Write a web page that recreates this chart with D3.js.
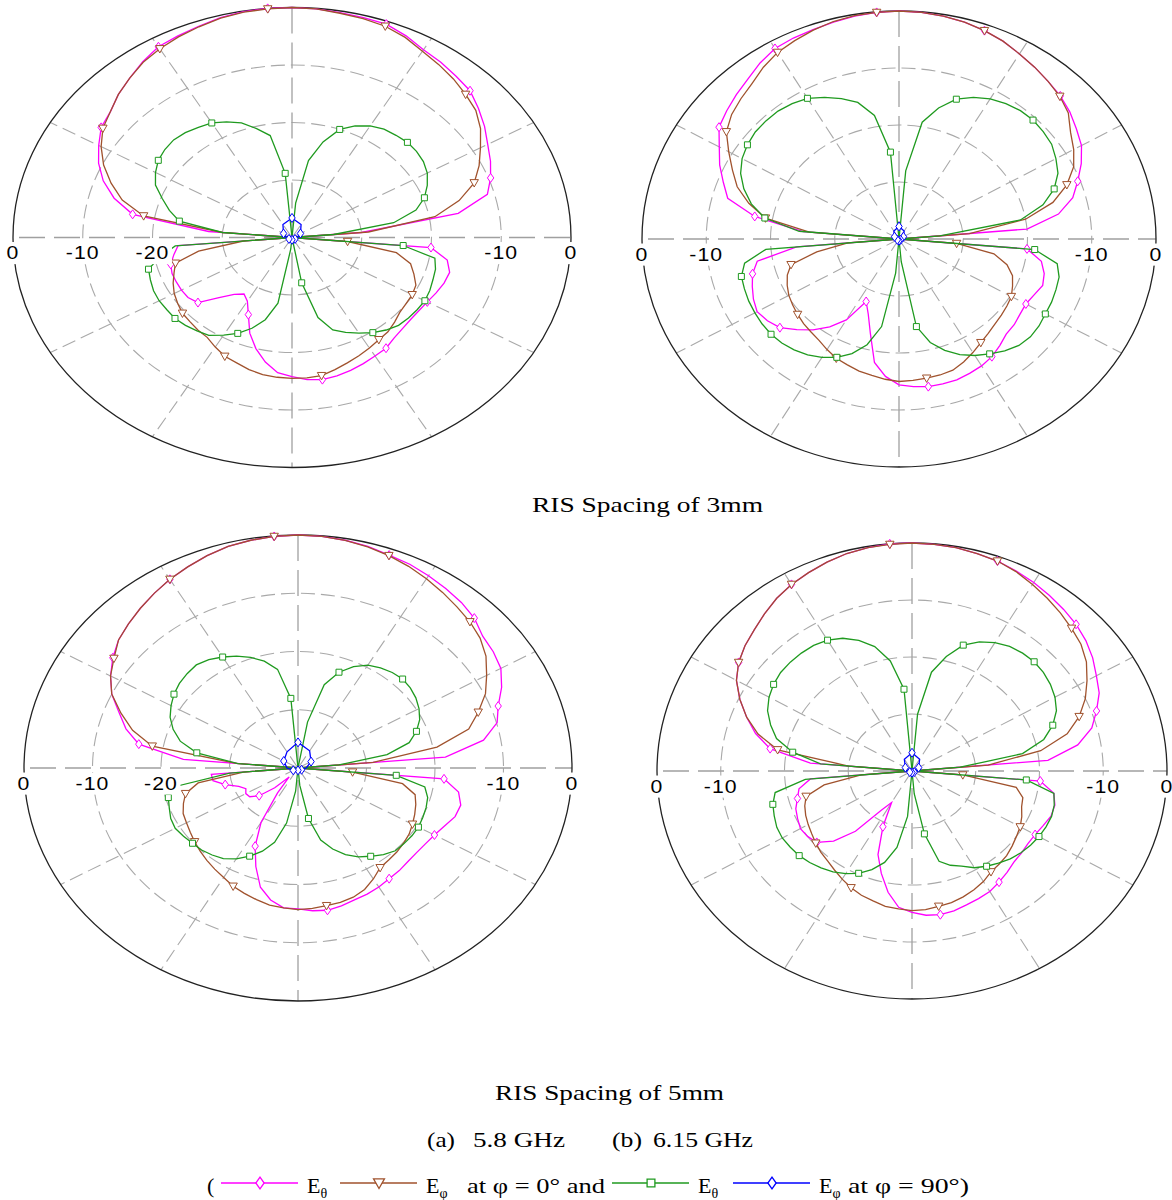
<!DOCTYPE html>
<html>
<head>
<meta charset="utf-8">
<script src="https://cdn.jsdelivr.net/npm/d3@7"></script>
<style>
  body { margin: 0; background: #fff; }
  text { font-family: "Liberation Serif", "Times New Roman", serif; fill: #000; }
  .tick { font-family: "Liberation Sans", Arial, sans-serif; font-size: 18px; letter-spacing: 1px; }
</style>
</head>
<body>
<div id="chart"></div>
<script>
// theta grid in degrees, clockwise from the top (0 dB at the rim, -40 dB at the centre)
var thetaDeg = d3.range(0, 360, 5);
var markerDeg = [20, 45, 70, 95, 120, 145, 170, 205, 230, 255, 280, 305, 330, 355];
var blueDeg = d3.range(0, 360, 30);
var ringDb = [-30, -20, -10];
var spokeDeg = [30, 60, 120, 150, 210, 240, 300, 330];

// RIS spacing 3mm, 5.8 GHz
var a3Eth0 = [0, -0.1, -0.3, -0.4, -0.5, -1.3, -2.3, -2.8, -3.4, -3.9, -5.1, -6.3, -7.6, -8.6, -9.7, -11, -15.8, -30,
  -40, -20, -17.4, -16.6, -16.8, -17.2, -17.6, -17.8, -17.8, -17.6, -17.2, -16.5, -16.2, -15.8, -15.4, -15.1, -14.9, -15.2,
  -15.8, -16.4, -18, -20, -22.3, -25.2, -27.2, -28, -27.1, -25.2, -22.4, -21.8, -21.7, -21.7, -21.7, -22, -22.8, -23.6,
  -40, -28, -16.8, -13.6, -11.2, -9.4, -8, -6.6, -6, -4.8, -3.8, -2.7, -1.7, -1.3, -0.9, -0.4, -0.1, 0];
var a3Eph0 = [0, -0.1, -0.4, -0.6, -0.9, -1.6, -2.6, -3.3, -4, -4.8, -5.6, -7, -8.8, -10.4, -12.2, -15.2, -19.2, -29,
  -40, -32, -24.8, -22.4, -21.4, -20.4, -20.1, -20, -19.8, -19.2, -18.6, -18.3, -17.8, -17.3, -16.8, -16.2, -15.6, -15.5,
  -15.5, -15.6, -15.8, -16.2, -16.8, -17.2, -18, -18.8, -19, -19.3, -19.5, -20, -20.5, -21.2, -22, -22.7, -26.4, -33,
  -40, -30, -18.4, -14.8, -12.4, -10.2, -8.4, -6.9, -6, -4.8, -3.8, -2.8, -2.1, -1.5, -1, -0.5, -0.2, -0.1];
var a3Eth90 = [-40, -34, -26.4, -22.8, -20, -18.6, -17.6, -17, -16.8, -16.6, -16.7, -17, -17.6, -18.6, -19.8, -21.6, -25.2, -34,
  -40, -24, -19.2, -18.7, -18.5, -18.2, -18, -18.1, -18.2, -18.4, -19, -19.8, -20.8, -21.8, -22.9, -25.6, -32, -40,
  -40, -38, -28.4, -25.2, -23.2, -21.6, -20.4, -19.2, -18.8, -18.4, -18.1, -18.1, -18, -18.1, -18.4, -18.7, -20.8, -23.2,
  -40, -30, -23.6, -21.8, -20.2, -18.4, -17.4, -16.6, -16.2, -16, -16.2, -16.6, -17, -17.8, -18.8, -20.4, -22, -28.8];
var a3Eph90 = [-36.6, -37.4, -38.6, -39.2, -39.5, -39.6, -39.6, -39.6, -39.5, -39.2, -38.6, -37.4];

// RIS spacing 3mm, 6.15 GHz
var b3Eth0 = [0, -0.1, -0.3, -0.6, -1.1, -1.7, -2.5, -3.2, -3.9, -4.5, -5.3, -6.3, -7.2, -8.7, -10.4, -12, -14.8, -20,
  -40, -20, -17.5, -16.6, -16.2, -16.8, -17.2, -17, -16.6, -16.4, -15.6, -14.8, -14.3, -14, -13.7, -13.7, -13.7, -14,
  -14.4, -15.8, -18, -22.8, -26, -27.9, -23.6, -21.2, -19.2, -17.5, -15.8, -15, -14.5, -15, -15.7, -16.4, -17.6, -24,
  -40, -25, -17.2, -12.4, -10.9, -9.2, -7.7, -5.8, -5, -4.2, -3.4, -2.3, -1.4, -1.1, -0.9, -0.6, -0.3, -0.1];
var b3Eph0 = [0, -0.1, -0.3, -0.6, -1.1, -1.7, -2.5, -3.2, -3.9, -4.6, -5.6, -7.4, -8.6, -10, -12.2, -15.2, -20, -29,
  -40, -31, -25, -22.6, -21.2, -20.5, -19.8, -19.5, -19.2, -18.9, -18.4, -17.8, -17, -16.2, -15.5, -15.3, -15.2, -15.1,
  -15, -15.3, -15.7, -16, -16.5, -16.9, -17.6, -18.3, -18.7, -19, -19.4, -19.8, -20.2, -20.8, -21.5, -22.6, -27, -32,
  -40, -26, -18.9, -15.8, -13.2, -11.4, -9.4, -7.2, -6, -5.2, -4.4, -3.2, -2.2, -1.6, -1, -0.5, -0.2, -0.1];
var b3Eth90 = [-40, -28, -19.2, -16.2, -13.9, -12.6, -11.6, -11, -10.6, -10.5, -10.7, -11, -11.8, -12.7, -14.3, -16.8, -20.8, -33.6,
  -40, -18.8, -15, -14.2, -14, -13.8, -13.7, -13.4, -13.3, -13.6, -14.4, -15.4, -16.4, -17.6, -19.2, -21.2, -24.4, -36,
  -40, -34, -24.4, -20.8, -18.6, -17.1, -16, -15.2, -14.6, -14.2, -14, -14, -14.1, -14.2, -14.4, -14.6, -15.6, -19.2,
  -40, -24.4, -18.8, -16.2, -14.3, -12.8, -11.8, -11.2, -10.8, -10.7, -10.7, -11, -11.5, -12.6, -13.8, -15.2, -18, -24.7];
var b3Eph90 = [-37.8, -38.4, -39.2, -39.5, -39.7, -39.7, -39.7, -39.7, -39.7, -39.5, -39.2, -38.4];

// RIS spacing 5mm, 5.8 GHz
var a5Eth0 = [0, -0.1, -0.3, -0.6, -1.1, -1.4, -1.9, -2.4, -2.9, -3.6, -4.8, -5.2, -5.8, -7.2, -8.9, -9.9, -12.5, -18.4,
  -40, -18.6, -16.2, -15.4, -15.6, -16.4, -17, -17.3, -17.4, -17.3, -17, -16.8, -16.4, -16.1, -15.9, -15.5, -15.2, -15.4,
  -15.8, -15.9, -17, -18.8, -22, -25.2, -29.2, -34.8, -38, -35.2, -32.6, -31.4, -31.2, -31.6, -30.8, -29, -27.4, -27.3,
  -40, -23.2, -16.4, -14, -12.2, -10, -8.4, -7, -5.8, -5, -4.2, -3.4, -2.6, -1.9, -1.2, -0.6, -0.3, -0.1];
var a5Eph0 = [0, -0.1, -0.3, -0.7, -1.2, -1.8, -2.5, -3.2, -3.9, -4.5, -5.3, -6.5, -8.2, -9.8, -12, -14.2, -19.4, -29,
  -40, -32, -24.5, -22.3, -21.7, -21.2, -20.7, -20.2, -19.9, -19.6, -19.4, -19.1, -18, -17, -16.4, -16.1, -16, -15.8,
  -15.7, -15.9, -16.1, -16.6, -17.1, -17.6, -18.3, -18.8, -19.3, -19.8, -20.3, -20.8, -21.2, -21.5, -22.2, -23, -25.2, -32,
  -40, -31, -18.4, -15, -12.5, -10, -8.4, -7.2, -5.8, -5, -4.2, -3.4, -2.6, -1.9, -1.2, -0.6, -0.3, -0.1];
var a5Eth90 = [-40, -40, -32, -25.2, -22.5, -20.8, -19.6, -19, -18.6, -18.4, -18.6, -19, -19.6, -20.4, -21.6, -23.2, -26.8, -34,
  -40, -25.6, -21.2, -20.4, -20.1, -19.9, -19.7, -19.7, -19.8, -19.9, -20.6, -21.5, -22.4, -23.6, -25.2, -27.2, -31.2, -37,
  -40, -36, -30.4, -26.8, -24.8, -23.3, -22, -21, -20.5, -20.1, -19.9, -19.6, -19.3, -19.5, -20, -20.4, -22, -30,
  -40, -31.2, -25, -22.2, -20.6, -19.4, -18.6, -17.9, -17.4, -17.1, -16.9, -17.3, -18, -18.8, -19.8, -21, -22.8, -28];
var a5Eph90 = [-35.6, -36.6, -37.8, -38.8, -39.4, -39.6, -39.6, -39.6, -39.2, -38.4, -37.6, -36.8];

// RIS spacing 5mm, 6.15 GHz
var b5Eth0 = [0, -0.1, -0.2, -0.5, -0.8, -1.3, -1.8, -2.4, -3, -3.6, -4.4, -5.4, -6.6, -7.6, -9.2, -10.8, -13.6, -18.6,
  -40, -19.8, -17.4, -16.8, -16.8, -17.3, -17.7, -17.8, -17.6, -17.4, -16.8, -16.2, -15.6, -15.3, -15, -14.6, -14.4, -14.6,
  -15.2, -16, -18.4, -21.4, -24.4, -29.2, -33.6, -31.6, -26.2, -22.6, -20.5, -20, -19.8, -20.2, -20.6, -21.4, -22, -24,
  -40, -24, -17.4, -14.6, -12.4, -10.2, -8.2, -6.8, -5.8, -5, -4, -3, -2.2, -1.6, -1, -0.5, -0.2, 0];
var b5Eph0 = [0, -0.1, -0.2, -0.5, -0.8, -1.4, -2.2, -3, -3.8, -4.6, -5.4, -6.6, -8.3, -10, -12.1, -14.8, -19.5, -28,
  -40, -32, -23.4, -22, -21.7, -21, -20.4, -20, -19.5, -19, -18.7, -18.4, -17.6, -17, -16.5, -16.1, -15.9, -15.6,
  -15.5, -15.7, -15.9, -16.4, -16.8, -17.4, -18.1, -18.8, -19.4, -19.8, -20.3, -20.8, -21.2, -21.6, -22.1, -22.8, -26, -32,
  -40, -30, -18.6, -15, -12.4, -10.2, -8.2, -6.8, -5.8, -5, -4, -3, -2.2, -1.6, -1, -0.5, -0.2, -0.1];
var b5Eth90 = [-40, -30, -22.4, -19.2, -16.5, -15, -14, -13.3, -13, -12.9, -13.1, -13.5, -14.1, -15, -16.5, -18.6, -22.4, -32.4,
  -40, -22, -17.4, -16.9, -16.7, -16.8, -17, -17.3, -17.7, -18.2, -18.9, -19.6, -20.4, -21.6, -22.4, -23.6, -28.8, -36,
  -40, -32, -26.4, -23.4, -21.6, -20.2, -19.2, -18.4, -17.8, -17.3, -16.9, -16.7, -16.5, -16.6, -17, -17.4, -18.2, -23.2,
  -40, -25.6, -21, -18, -16.4, -15, -14.1, -13.5, -13.1, -13, -13, -13.1, -13.5, -14.3, -15.6, -17.4, -20.4, -25.6];
var b5Eph90 = [-36.8, -37.6, -38.8, -39.3, -39.6, -39.7, -39.7, -39.7, -39.6, -39.3, -38.8, -37.6];

// tick labels shown on each side of the horizontal axis
var leftTicksA = [0, -10, -20], rightTicksA = [-10, 0];
var leftTicksB = [0, -10], rightTicksB = [-10, 0];

var W = 1172, H = 1200;
var svg = d3.select('#chart').append('svg')
    .attr('width', W)
    .attr('height', H);

var rScale = d3.scaleLinear().domain([-40, 0]).range([0, 1]).clamp(true);
var aScale = d3.scaleLinear().domain([0, 360]).range([0, 2 * Math.PI]);

var colors = { eth0: '#ff00ff', eph0: '#a0522d', eth90: '#1f9a1f', eph90: '#0000ff' };
var markerPath = {
    diamond: 'M0,-4.5L3.2,0L0,4.5L-3.2,0Z',
    triangle: 'M-4.2,-3.2L4.2,-3.2L0,4.2Z',
    square: 'M-3,-3H3V3H-3Z'
};
var series = [
    { key: 'eth0', marker: 'diamond' },
    { key: 'eph0', marker: 'triangle' },
    { key: 'eth90', marker: 'square' },
    { key: 'eph90', marker: 'diamond' }
];

//the four polar panels (each one is stretched a little differently in the original)
var panels = [
    { cx: 292, cy: 237.5, rx: 279, ry: 230, eth0: a3Eth0, eph0: a3Eph0, eth90: a3Eth90, eph90: a3Eph90, left: leftTicksA, right: rightTicksA },
    { cx: 899, cy: 239, rx: 257, ry: 228, eth0: b3Eth0, eph0: b3Eph0, eth90: b3Eth90, eph90: b3Eph90, left: leftTicksB, right: rightTicksB },
    { cx: 298, cy: 768, rx: 274, ry: 233, eth0: a5Eth0, eph0: a5Eph0, eth90: a5Eth90, eph90: a5Eph90, left: leftTicksA, right: rightTicksA },
    { cx: 912, cy: 771, rx: 255, ry: 228, eth0: b5Eth0, eph0: b5Eph0, eth90: b5Eth90, eph90: b5Eph90, left: leftTicksB, right: rightTicksB }
];

panels.forEach(function (p) {
    var g = svg.append('g');
    function px(deg, db) { return p.cx + p.rx * rScale(db) * Math.sin(aScale(deg)); }
    function py(deg, db) { return p.cy - p.ry * rScale(db) * Math.cos(aScale(deg)); }

    //dashed rings
    g.selectAll('ellipse.ring').data(ringDb).enter().append('ellipse')
        .attr('class', 'ring')
        .attr('cx', p.cx).attr('cy', p.cy)
        .attr('rx', function (d) { return p.rx * rScale(d); })
        .attr('ry', function (d) { return p.ry * rScale(d); })
        .attr('fill', 'none').attr('stroke', '#a9a9a9').attr('stroke-width', 1.1)
        .attr('stroke-dasharray', '14,6');

    //spokes every 30 degrees
    g.selectAll('line.spoke').data(spokeDeg).enter().append('line')
        .attr('x1', p.cx).attr('y1', p.cy)
        .attr('x2', function (d) { return px(d, 0); })
        .attr('y2', function (d) { return py(d, 0); })
        .attr('stroke', '#a9a9a9').attr('stroke-width', 1.1)
        .attr('stroke-dasharray', '14,6');

    //main axes
    g.append('line')
        .attr('x1', p.cx).attr('x2', p.cx)
        .attr('y1', p.cy - p.ry).attr('y2', p.cy + p.ry)
        .attr('stroke', '#a0a0a0').attr('stroke-width', 1.3).attr('stroke-dasharray', '26,9');
    g.append('line')
        .attr('x1', p.cx - p.rx + 6).attr('x2', p.cx + p.rx)
        .attr('y1', p.cy).attr('y2', p.cy)
        .attr('stroke', '#a0a0a0').attr('stroke-width', 1.3).attr('stroke-dasharray', '26,9');

    //outer rim
    g.append('ellipse')
        .attr('cx', p.cx).attr('cy', p.cy)
        .attr('rx', p.rx * rScale(0)).attr('ry', p.ry * rScale(0))
        .attr('fill', 'none').attr('stroke', '#222').attr('stroke-width', 1.3);

    //patterns
    series.forEach(function (s) {
        var vals = p[s.key];
        var ang = s.key === 'eph90' ? blueDeg : thetaDeg;
        var pts = vals.map(function (v, i) { return [px(ang[i], v), py(ang[i], v)]; });
        g.append('path')
            .attr('d', d3.line().curve(d3.curveLinearClosed)(pts))
            .attr('fill', 'none')
            .attr('stroke', colors[s.key])
            .attr('stroke-width', 1.3);

        var mk = s.key === 'eph90'
            ? ang.filter(function (d, i) { return i % 2 === 0; })
            : markerDeg;
        g.selectAll(null).data(mk).enter().append('path')
            .attr('d', markerPath[s.marker])
            .attr('transform', function (d) {
                var v = vals[ang.indexOf(d)];
                return 'translate(' + px(d, v) + ',' + py(d, v) + ')';
            })
            .attr('fill', '#fff')
            .attr('stroke', colors[s.key])
            .attr('stroke-width', 1);
    });

    //tick labels with white boxes
    function addTick(deg, db) {
        var t = g.append('g')
            .attr('transform', 'translate(' + px(deg, db) + ',' + (p.cy + 15.5) + ') scale(1.18,1)');
        var box = t.append('rect').attr('fill', '#fff');
        var txt = t.append('text')
            .attr('class', 'tick')
            .attr('text-anchor', 'middle')
            .attr('dy', '0.36em')
            .text(db === 0 ? '0' : String(db));
        var bb = txt.node().getBBox();
        box.attr('x', bb.x - 2).attr('y', bb.y - 1).attr('width', bb.width + 4).attr('height', bb.height + 2);
    }
    p.left.forEach(function (d) { addTick(270, d); });
    p.right.forEach(function (d) { addTick(90, d); });
});

//captions
function caption(str, x, y, len) {
    svg.append('text')
        .attr('x', x).attr('y', y)
        .attr('font-family', '"Liberation Serif", "Times New Roman", serif')
        .attr('font-size', 22)
        .attr('textLength', len)
        .attr('lengthAdjust', 'spacingAndGlyphs')
        .text(str);
}
caption('RIS Spacing of 3mm', 532, 512, 231);
caption('RIS Spacing of 5mm', 495, 1100, 229);
caption('(a)', 427, 1147, 28);
caption('5.8 GHz', 473, 1147, 92);
caption('(b)', 612, 1147, 30);
caption('6.15 GHz', 653, 1147, 100);

//legend
var legendY = 1183;
svg.append('text').attr('x', 207).attr('y', 1193).attr('font-size', 22).text('(');
var legendItems = [
    { key: 'eth0', marker: 'diamond', x: 221, sub: 'θ', tail: '', tailX: 0, tailLen: 0 },
    { key: 'eph0', marker: 'triangle', x: 340, sub: 'φ', tail: 'at φ = 0° and', tailX: 467, tailLen: 138 },
    { key: 'eth90', marker: 'square', x: 612, sub: 'θ', tail: '', tailX: 0, tailLen: 0 },
    { key: 'eph90', marker: 'diamond', x: 733, sub: 'φ', tail: 'at φ = 90°)', tailX: 848, tailLen: 121 }
];
legendItems.forEach(function (it) {
    svg.append('line')
        .attr('x1', it.x).attr('x2', it.x + 77)
        .attr('y1', legendY).attr('y2', legendY)
        .attr('stroke', colors[it.key]).attr('stroke-width', 1.5);
    svg.append('path')
        .attr('d', markerPath[it.marker])
        .attr('transform', 'translate(' + (it.x + 39) + ',' + legendY + ') scale(1.3)')
        .attr('fill', '#fff').attr('stroke', colors[it.key]).attr('stroke-width', 1);
    var ex = it.x + 86;
    var t = svg.append('text').attr('x', ex).attr('y', 1193).attr('font-size', 22);
    t.append('tspan').text('E');
    t.append('tspan').attr('font-size', 14).attr('dy', 5).text(it.sub);
    if (it.tail) {
        caption(it.tail, it.tailX, 1193, it.tailLen);
    }
});
</script>
</body>
</html>
